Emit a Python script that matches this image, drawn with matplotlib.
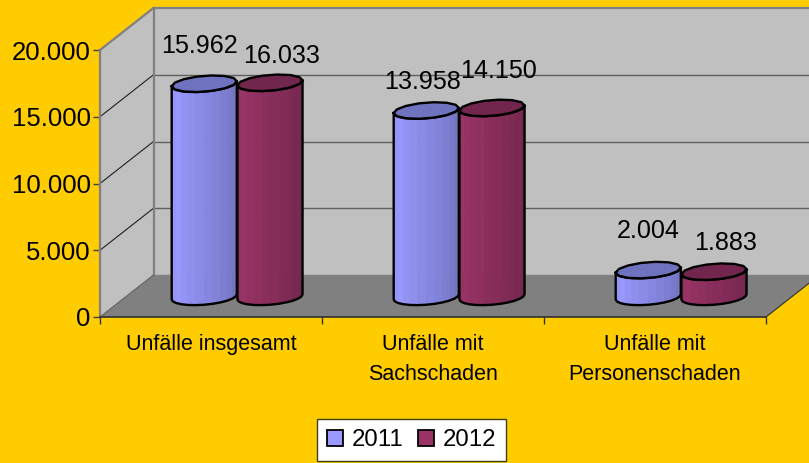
import numpy as np
import matplotlib
matplotlib.use("Agg")
import matplotlib.pyplot as plt
from matplotlib.patches import Patch
from matplotlib.colors import to_rgb

plt.rcParams['font.family'] = ['Liberation Sans', 'DejaVu Sans']

categories = ["Unfälle insgesamt", "Unfälle mit\nSachschaden", "Unfälle mit\nPersonenschaden"]
series_names = ["2011", "2012"]
values_2011 = [15962, 13958, 2004]
values_2012 = [16033, 14150, 1883]
y_ticks = [0, 5000, 10000, 15000, 20000]

BG, WALL, FLOOR = "#FFCC00", "#C0C0C0", "#808080"
BLUE, RED = "#9999FF", "#993366"
BLUE_TOP, RED_TOP = "#6F73BF", "#72264E"
# per-label nudges (pixels) relative to the top centre of each cylinder
label_off = {0: [(-5, 38), (-4, 29), (0, 39)], 1: [(12, 27), (7, 37), (12, 29)]}

W, H, DPI = 809, 463, 100
fig = plt.figure(figsize=(W / DPI, H / DPI), dpi=DPI, facecolor=BG)
L, R, T, B = 100, 766, 50, 317
ax = fig.add_axes([L / W, 1 - B / H, (R - L) / W, (B - T) / H])
ax.set_xlim(0, 3)
ax.set_ylim(0, 20000)
ax.patch.set_visible(False)

px_x = (R - L) / 3
px_y = (B - T) / 20000
DX, DY = 53.5 / px_x, 42 / px_y   # full chart depth in data units


def P(x, y, d=0.0):
    return x + d * DX, y + d * DY


def poly(points, **kw):
    xs, ys = zip(*points)
    ax.fill(xs, ys, clip_on=False, **kw)


def line(a, b, **kw):
    ax.plot([a[0], b[0]], [a[1], b[1]], clip_on=False, solid_capstyle='projecting', **kw)


# floor, walls
xe = 3.0
poly([P(0, 0), P(xe, 0), P(xe, 0, 1), P(0, 0, 1)], color=FLOOR, lw=0, zorder=1)
poly([P(0, 0), P(0, 20000), P(0, 20000, 1), P(0, 0, 1)], color=WALL, lw=0, zorder=1)
poly([P(0, 0, 1), P(0, 20000, 1), P(xe, 20000, 1), P(xe, 0, 1)], color=WALL, lw=0, zorder=1)
for v in y_ticks[1:-1]:
    line(P(0, v), P(0, v, 1), color="#202020", lw=0.8, zorder=2)
    line(P(0, v, 1), P(xe, v, 1), color="#606060", lw=1.0, zorder=2)
line(P(0, 0, 1), P(xe, 0, 1), color="#808080", lw=1.0, zorder=2)
for a, b in [(P(0, 20000), P(0, 20000, 1)), (P(0, 20000, 1), P(xe, 20000, 1)),
             (P(0, 0, 1), P(0, 20000, 1)), (P(0, 0), P(0, 20000))]:
    line(a, b, color="#808080", lw=1.6, zorder=2)
line(P(0, 0), P(0, 0, 1), color="#606060", lw=0.8, zorder=2)
line(P(xe, 0), P(xe, 0, 1), color="#303030", lw=0.8, zorder=2)


# cylinders
rad_x = 31 / px_x
depth = 0.48
k_x, k_y = 10 / px_x, 8.3 / px_y
t0 = np.arctan2(k_x, rad_x)


def ring(cx, y, ts):
    return [P(cx + rad_x * np.cos(t) + k_x * np.sin(t), y + k_y * np.sin(t), depth) for t in ts]


def shade(col, f):
    c = np.array(to_rgb(col))
    m = 0.93 + 0.07 * f / 0.18 if f < 0.18 else 1 - 0.28 * (f - 0.18) / 0.82
    return tuple(c * m)


def cylinder(cx, val, col, top_col, z):
    n = 12
    ts = np.linspace(t0 - np.pi, t0, n + 1)
    up, lo = ring(cx, val, ts), ring(cx, 0, ts)
    for i in range(n):
        f = (i + 0.5) / n
        poly([lo[i], lo[i + 1], up[i + 1], up[i]], facecolor=shade(col, f),
             edgecolor=shade(col, f), lw=0.4, zorder=z)
    xs, ys = zip(*(up + lo[::-1] + up[:1]))
    ax.plot(xs, ys, color="black", lw=1.7, clip_on=False, zorder=z + 0.1, solid_joinstyle='round')
    ta = np.linspace(0, 2 * np.pi, 15) + t0
    poly(ring(cx, val, ta), facecolor=top_col, edgecolor="black", lw=1.7, zorder=z + 0.2)


bar_shift = [-0.146, 0.15]
series = [(values_2011, BLUE, BLUE_TOP), (values_2012, RED, RED_TOP)]
for s, (vals, col, tcol) in enumerate(series):
    for c, v in enumerate(vals):
        cx = c + 0.5 + bar_shift[s]
        cylinder(cx, v, col, tcol, 3 + c + s * 0.5)
        lx, ly = P(cx, v, depth)
        dx, dy = label_off[s][c]
        ax.annotate(f"{v:,}".replace(",", "."), (lx, ly), xytext=(dx * 0.72, dy * 0.72),
                    textcoords="offset points", ha="center", va="center",
                    fontsize=18.1, color="black", zorder=10, annotation_clip=False)

# axes
for side in ("top", "right", "left"):
    ax.spines[side].set_visible(False)
ax.spines["bottom"].set_color("#303030")
ax.spines["bottom"].set_linewidth(1.2)
ax.spines["bottom"].set_zorder(2.5)
ax.set_yticks(y_ticks, [f"{v:,}".replace(",", ".") for v in y_ticks])
ax.tick_params(axis="y", length=5, width=1, color="#404040", labelsize=18.5, pad=1.6, labelcolor="black")
ax.set_xticks([0, 1, 2, 3], [])
ax.tick_params(axis="x", which="major", length=5, width=1, color="#303030")
ax.set_xticks([0.5, 1.5, 2.5], categories, minor=True)
ax.tick_params(axis="x", which="minor", length=0, pad=12, labelsize=15.5, labelcolor="black")
for t in ax.get_xminorticklabels():
    t.set_linespacing(1.58)
    t.set_va("top")

handles = [Patch(facecolor=BLUE, edgecolor="black", lw=1.3), Patch(facecolor=RED, edgecolor="black", lw=1.3)]
leg = fig.legend(handles, series_names, loc="upper left", bbox_to_anchor=(317 / W, 1 - 419 / H),
                 bbox_transform=fig.transFigure, ncol=2, fontsize=17.3, frameon=True, fancybox=False,
                 borderaxespad=0, borderpad=0.42, handlelength=0.65, handleheight=0.65,
                 handletextpad=0.36, columnspacing=0.62, labelspacing=0)
leg.get_frame().set(facecolor="white", edgecolor="#404010", linewidth=1, alpha=1)

fig.savefig("out.png", dpi=DPI, facecolor=BG)
